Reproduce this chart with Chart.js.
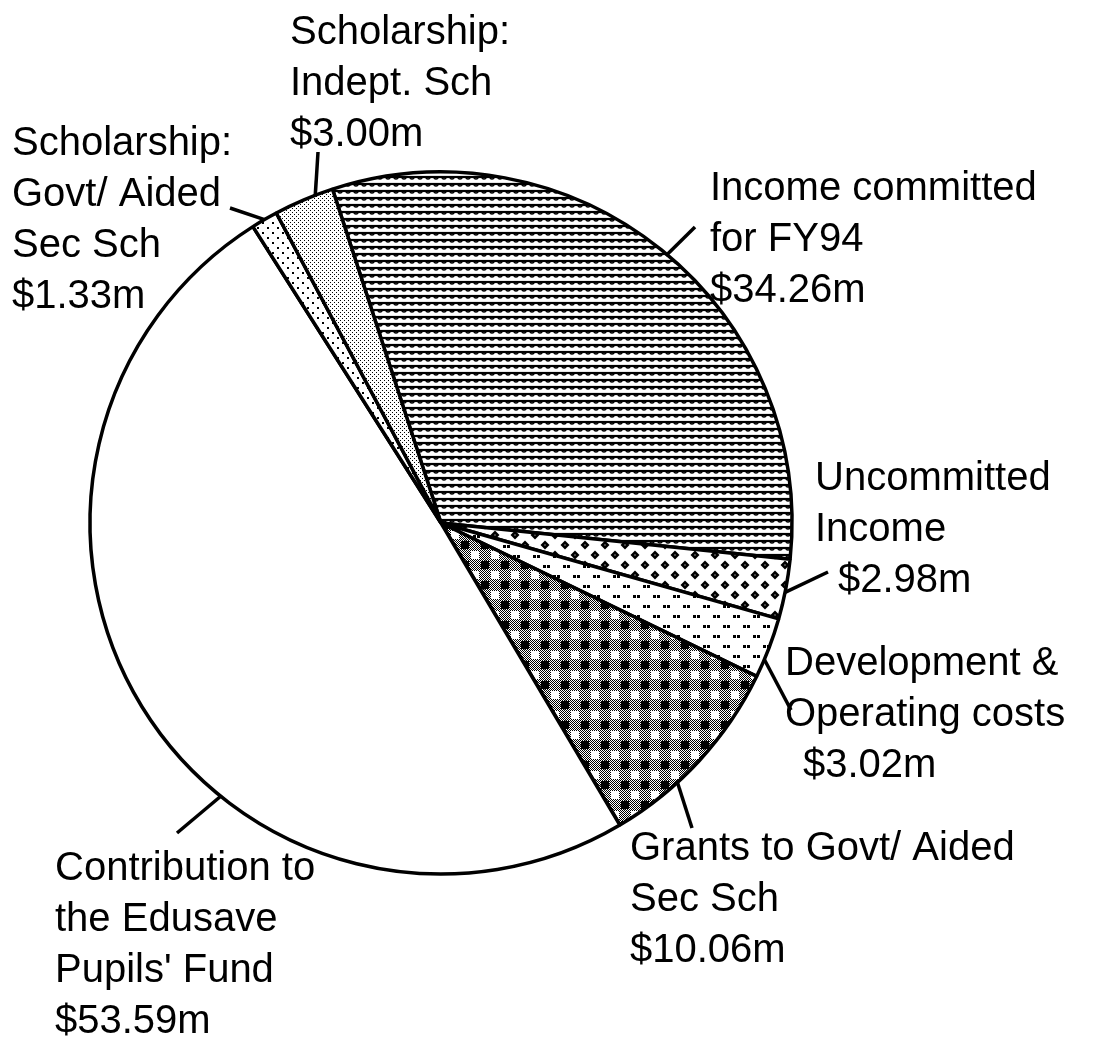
<!DOCTYPE html>
<html>
<head>
<meta charset="utf-8">
<script src="https://cdn.jsdelivr.net/npm/chart.js@4.4.1/dist/chart.umd.min.js"></script>
<style>
  html, body { margin: 0; padding: 0; background: #fff; }
  canvas { display: block; }
</style>
</head>
<body>
<canvas id="chart-pie" width="1098" height="1039"></canvas>
<script>
// slices in clockwise order, starting at the edge next to the scholarship wedges
const categories = [
    'Income committed for FY94',
    'Uncommitted Income',
    'Development & Operating costs',
    'Grants to Govt/ Aided Sec Sch',
    "Contribution to the Edusave Pupils' Fund",
    'Scholarship: Govt/ Aided Sec Sch',
    'Scholarship: Indept. Sch'
];
const amounts = [34.26, 2.98, 3.02, 10.06, 53.59, 1.33, 3.00];
const labelText = [
    ['Income committed', 'for FY94'],
    ['Uncommitted', 'Income'],
    ['Development &', 'Operating costs'],
    ['Grants to Govt/ Aided', 'Sec Sch'],
    ['Contribution to', 'the Edusave', "Pupils' Fund"],
    ['Scholarship:', 'Govt/ Aided', 'Sec Sch'],
    ['Scholarship:', 'Indept. Sch']
];

// where each label sits, and where its leader line leaves the slice
const labelLayout = [
    {x: 710, y: 200, valueDx: 0,  at: 0.51, to: [695, 227]},
    {x: 815, y: 490, valueDx: 23, at: 0.55, to: [828, 572]},
    {x: 785, y: 675, valueDx: 18, at: 0.70, to: [791, 710]},
    {x: 630, y: 860, valueDx: 0,  at: 0.65, to: [692, 828]},
    {x: 55,  y: 880, valueDx: 0,  at: 0.39, to: [177, 833]},
    {x: 12,  y: 155, valueDx: 0,  at: 0.50, to: [230, 208]},
    {x: 290, y: 44,  valueDx: 0,  at: 0.70, to: [318, 152]}
];
const lineHeight = 51;
const FONT = "40px 'Liberation Sans', Arial, Helvetica, sans-serif";

function makePattern(w, h, draw) {
    const c = document.createElement('canvas');
    c.width = w;
    c.height = h;
    const ctx = c.getContext('2d');
    ctx.fillStyle = '#fff';
    ctx.fillRect(0, 0, w, h);
    ctx.fillStyle = '#000';
    ctx.strokeStyle = '#000';
    draw(ctx);
    return ctx.createPattern(c, 'repeat');
}

const ctx0 = document.getElementById('chart-pie').getContext('2d');

const patterns = [
    // scalloped horizontal lines
    makePattern(8, 7, (ctx) => {
        ctx.lineWidth = 2.2;
        ctx.beginPath();
        ctx.moveTo(0, 2);
        ctx.lineTo(8, 2);
        ctx.stroke();
        ctx.lineWidth = 1.5;
        ctx.beginPath();
        ctx.arc(4, 2, 2, 0, Math.PI);
        ctx.stroke();
    }),
    // little diamonds
    makePattern(20, 20, (ctx) => {
        [[5, 5], [15, 15]].forEach(([x, y]) => {
            ctx.beginPath();
            ctx.moveTo(x, y - 4.5);
            ctx.lineTo(x + 4.5, y);
            ctx.lineTo(x, y + 4.5);
            ctx.lineTo(x - 4.5, y);
            ctx.closePath();
            ctx.fill();
            ctx.fillStyle = '#fff';
            ctx.fillRect(x - 0.5, y - 0.5, 1, 1);
            ctx.fillStyle = '#000';
        });
    }),
    // pairs of dots
    makePattern(20, 20, (ctx) => {
        ctx.fillRect(3, 5, 3, 3);
        ctx.fillRect(7, 5, 3, 3);
        ctx.fillRect(13, 15, 3, 3);
        ctx.fillRect(17, 15, 3, 3);
    }),
    // gingham check
    makePattern(20, 20, (ctx) => {
        for (let x = 0; x < 20; x++) {
            for (let y = 0; y < 20; y++) {
                if ((x + y) % 2 == 0) ctx.fillRect(x, y, 1, 1);
            }
        }
        ctx.fillStyle = '#fff';
        ctx.fillRect(11, 11, 8, 8);
        ctx.fillStyle = '#000';
        ctx.beginPath();
        ctx.moveTo(5, 0); ctx.lineTo(10, 5); ctx.lineTo(5, 10); ctx.lineTo(0, 5);
        ctx.closePath();
        ctx.fill();
        ctx.fillRect(1, 1, 8, 8);
    }),
    '#ffffff',
    // sparse dots
    makePattern(10, 10, (ctx) => {
        ctx.fillRect(2, 2, 2, 2);
        ctx.fillRect(7, 7, 2, 2);
    }),
    // fine stipple
    makePattern(4, 4, (ctx) => {
        ctx.fillRect(0, 0, 1, 1);
        ctx.fillRect(2, 2, 1, 1);
    })
];

const labelPlugin = {
    id: 'leaderLabels',
    afterDatasetsDraw(chart) {
        const ctx = chart.ctx;
        const meta = chart.getDatasetMeta(0);
        ctx.save();
        ctx.strokeStyle = '#000';
        ctx.lineWidth = 3.5;
        ctx.fillStyle = '#000';
        ctx.font = FONT;
        ctx.textBaseline = 'alphabetic';
        meta.data.map((arc, i) => {
            const {x, y, startAngle, endAngle, outerRadius} =
                arc.getProps(['x', 'y', 'startAngle', 'endAngle', 'outerRadius'], true);
            const lay = labelLayout[i];
            const a = startAngle + (endAngle - startAngle) * lay.at;
            ctx.beginPath();
            ctx.moveTo(x + Math.cos(a) * outerRadius, y + Math.sin(a) * outerRadius);
            ctx.lineTo(lay.to[0], lay.to[1]);
            ctx.stroke();

            const lines = labelText[i].concat(['$' + amounts[i].toFixed(2) + 'm']);
            lines.map((t, j) => {
                const dx = j == lines.length - 1 ? lay.valueDx : 0;
                ctx.fillText(t, lay.x + dx, lay.y + j * lineHeight);
            });
            return arc;
        });
        ctx.restore();
    }
};

const pieChart = new Chart(ctx0, {
    type: 'pie',
    data: {
        labels: categories,
        datasets: [{
            data: amounts,
            backgroundColor: patterns,
            borderColor: '#000',
            borderWidth: 3.5,
            borderAlign: 'center'
        }]
    },
    options: {
        responsive: false,
        animation: false,
        events: [],
        rotation: -18,
        radius: 351,
        layout: {padding: {left: 0, right: 216, top: 7, bottom: 0}},
        plugins: {
            legend: {display: false},
            tooltip: {enabled: false}
        }
    },
    plugins: [labelPlugin]
});
</script>
</body>
</html>
